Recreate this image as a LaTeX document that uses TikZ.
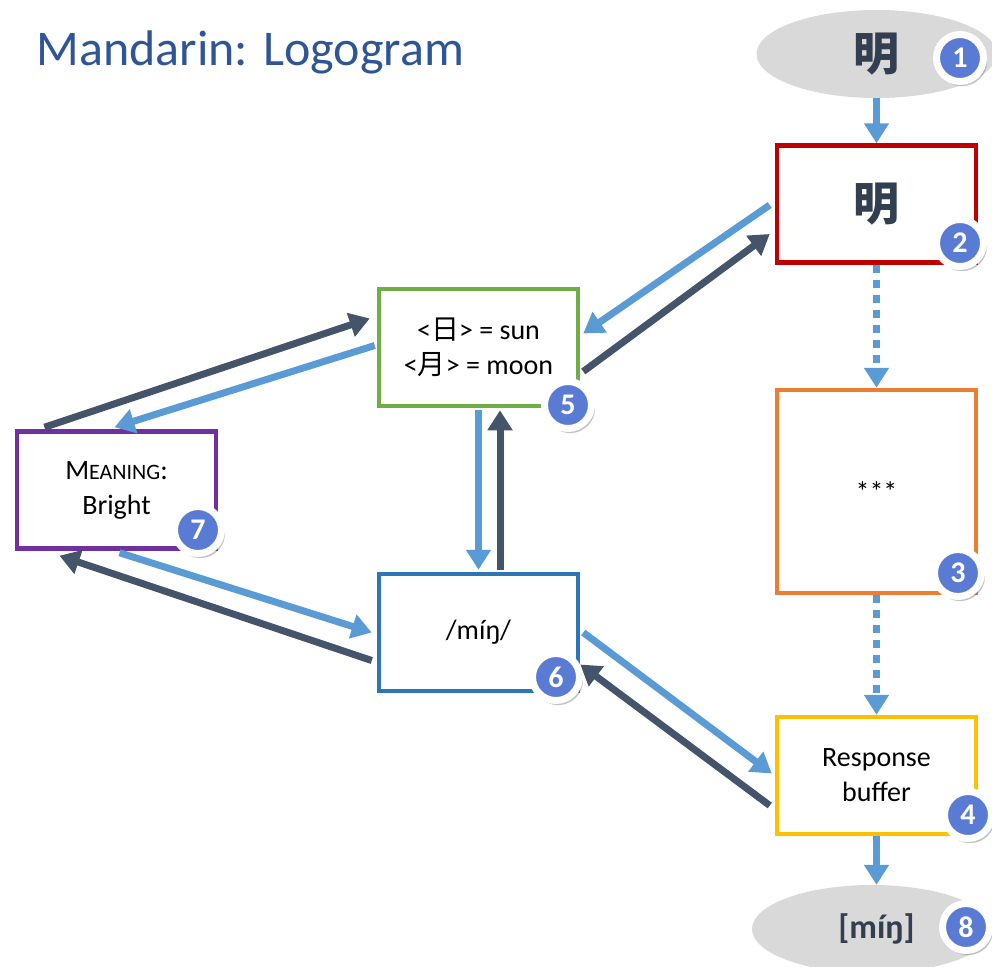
\documentclass[tikz,border=0pt]{standalone}
\usepackage{fontspec}
\setmainfont{Carlito}
\newfontfamily\cjk{Noto Sans CJK SC}
\usetikzlibrary{arrows.meta,shapes.geometric,shadows}
\definecolor{titleBlue}{HTML}{2F5597}
\definecolor{lightArr}{HTML}{5B9BD5}
\definecolor{darkArr}{HTML}{44546A}
\definecolor{inkDark}{HTML}{333F50}
\definecolor{stimGrey}{HTML}{D9D9D9}
\definecolor{badgeBlue}{HTML}{5A7BD3}
\definecolor{frameRed}{HTML}{C00000}
\definecolor{frameOrange}{HTML}{ED7D31}
\definecolor{frameYellow}{HTML}{FFC000}
\definecolor{frameGreen}{HTML}{70AD47}
\definecolor{frameBlue}{HTML}{2E75B6}
\definecolor{framePurple}{HTML}{7030A0}
\newcommand{\mingchar}{\cjk\bfseries 明}

\begin{document}
\begin{tikzpicture}[
  x=1pt, y=-1pt,
  box/.style={draw, line width=4.5pt, fill=white, align=center,
              minimum width=199pt, minimum height=117pt,
              font=\fontsize{28}{35}\selectfont},
  stim/.style={ellipse, fill=stimGrey, minimum width=240pt, minimum height=88pt,
               text=inkDark, font=\fontsize{46}{50}\selectfont\bfseries},
  badge/.style={circle, fill=badgeBlue, draw=white, line width=7pt,
                minimum size=47pt, inner sep=0pt, text=white,
                font=\fontsize{30}{30}\selectfont\bfseries,
                drop shadow={opacity=0.4, fill=black!60, shadow xshift=2pt, shadow yshift=-3pt, shadow scale=1.06}},
  lt/.style={-{Triangle[length=20pt,width=24pt]}, line width=7pt, color=lightArr},
  dk/.style={-{Triangle[length=20pt,width=24pt]}, line width=7pt, color=darkArr},
  dots/.style={lt, dash pattern=on 8pt off 7pt}
]
\useasboundingbox (0,0) rectangle (992,966);
\clip (0,0) rectangle (992,966);

\node[anchor=base west, text=titleBlue, font=\fontsize{50}{60}\selectfont] (title) at (33,66) {Mandarin: Logogram};

% route down the right side
\node[stim] (word) at (876.5,54) {\mingchar};
\node[box, draw=frameRed, font=\fontsize{46}{50}\selectfont] (orth) at (876.5,204) {\textcolor{inkDark}{\mingchar}};
\node[box, draw=frameOrange, minimum height=203pt] (hidden) at (876.5,491.5) {***};
\node[box, draw=frameYellow] (resp) at (876.5,775.5) {Response\\buffer};
\node[stim, font=\fontsize{34}{40}\selectfont\bfseries] (say) at (872,929) {\hspace*{9pt}[míŋ]};

% the triangle
\node[box, draw=frameGreen] (parts) at (478.5,347.5) {<{\cjk 日}> = sun\\<{\cjk 月}> = moon};
\node[box, draw=framePurple] (sem) at (116.5,490) {M{\fontsize{22}{35}\selectfont EANING}:\\Bright};
\node[box, draw=frameBlue] (phon) at (478.5,632.5) {/míŋ/};

\draw[lt] (word) -- (orth);
\draw[dots] (orth) -- (hidden);
\draw[dots] (hidden) -- (resp);
\draw[lt] (resp.south) -- ([xshift=4.5pt]say.north);

\draw[lt] ([xshift=-5pt,yshift=-1pt]orth.west) -- ([xshift=3pt,yshift=14pt]parts.east);
\draw[dk] ([xshift=3pt,yshift=-24pt]parts.east) -- ([xshift=-5pt,yshift=-30pt]orth.west);
\draw[dk] ([xshift=-72pt,yshift=2pt]sem.north) -- ([xshift=-7pt,yshift=29pt]parts.west);
\draw[lt] ([xshift=-2pt,yshift=2pt]parts.west) -- ([xshift=-2pt,yshift=2pt]sem.north);
\draw[lt] ([yshift=-2pt]parts.south) -- ([yshift=2pt]phon.north);
\draw[dk] ([xshift=21.5pt,yshift=2pt]phon.north) -- ([xshift=21.5pt,yshift=-2pt]parts.south);
\draw[lt] ([xshift=3pt,yshift=-2pt]sem.south) -- ([xshift=-5pt]phon.west);
\draw[dk] ([xshift=-5pt,yshift=-28pt]phon.west) -- ([xshift=-57pt,yshift=-5pt]sem.south);
\draw[lt] ([xshift=3pt]phon.east) -- ([xshift=-3pt,yshift=2pt]resp.west);
\draw[dk] ([xshift=-5pt,yshift=-30pt]resp.west) -- ([yshift=-32pt]phon.east);

% numbered badges
\node[badge] (n1) at (960,58) {1};
\node[badge] (n2) at (960,243) {2};
\node[badge] (n3) at (958,573) {3};
\node[badge] (n4) at (968,815) {4};
\node[badge] (n5) at (568,405) {5};
\node[badge] (n6) at (556,677) {6};
\node[badge] (n7) at (198,530) {7};
\node[badge] (n8) at (966,927) {8};
\end{tikzpicture}
\end{document}
